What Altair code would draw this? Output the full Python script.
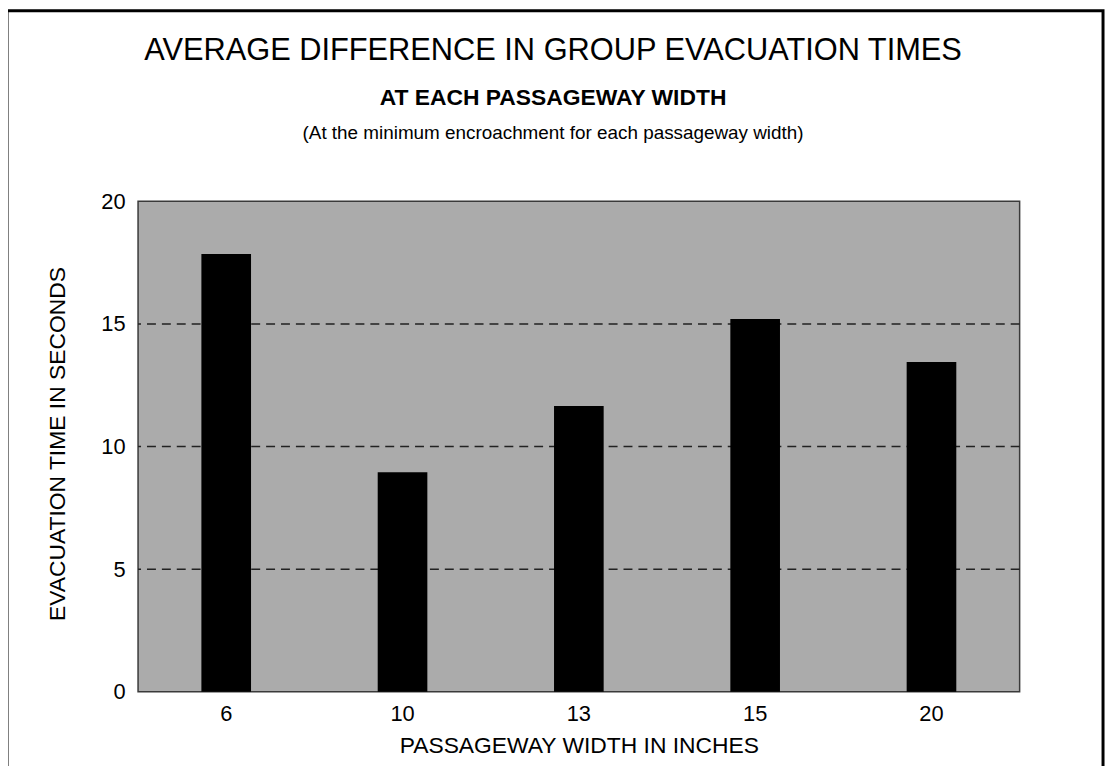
import altair as alt
import pandas as pd

# ---- data ----
widths = ["6", "10", "13", "15", "20"]
times = [17.85, 8.95, 11.65, 15.2, 13.45]
grid_values = [5, 10, 15]
y_ticks = [0, 5, 10, 15, 20]

title_main = "AVERAGE DIFFERENCE IN GROUP EVACUATION TIMES"
title_sub = "AT EACH PASSAGEWAY WIDTH"
title_note = "(At the minimum encroachment for each passageway width)"
x_title = "PASSAGEWAY WIDTH IN INCHES"
y_title = "EVACUATION TIME IN SECONDS"

FONT = "Liberation Sans"
W, H = 888, 494

df = pd.DataFrame({"width": widths, "time": times})
grid_df = pd.DataFrame({"v": grid_values})

yscale = alt.Scale(domain=[0, 20], nice=False, zero=True)

y_axis = alt.Axis(
    title=y_title,
    values=y_ticks,
    grid=False,
    labelFontSize=22,
    labelFont=FONT,
    labelColor="black",
    labelPadding=13,
    tickSize=0,
    domain=False,
    titleFont=FONT,
    titleFontSize=23,
    titleFontWeight="normal",
    titleColor="black",
    titleAngle=270,
    titleX=-81,
    titleY=H / 2 - 3,
    titleAlign="center",
    titleBaseline="middle",
)

grid = alt.Chart(grid_df).mark_rule(
    color="#222222", strokeWidth=1.5, strokeDash=[9, 6]
).encode(y=alt.Y("v:Q", scale=yscale, axis=y_axis))

bars = alt.Chart(df).mark_bar(color="black", size=50).encode(
    x=alt.X(
        "width:N",
        sort=widths,
        scale=alt.Scale(paddingInner=0, paddingOuter=0),
        axis=alt.Axis(
            title=x_title,
            labelAngle=0,
            labelFontSize=22,
            labelFont=FONT,
            labelColor="black",
            labelPadding=12,
            tickSize=0,
            domain=False,
            titleFont=FONT,
            titleFontSize=23,
            titleFontWeight="normal",
            titleColor="black",
            titleY=54,
            titleBaseline="middle",
        ),
    ),
    y=alt.Y("time:Q", scale=yscale, axis=y_axis),
)

CX = 418


def text_line(txt, y, size, weight="normal"):
    return alt.Chart(pd.DataFrame({"t": [txt]})).mark_text(
        font=FONT, fontSize=size, fontWeight=weight, color="black",
        align="center", baseline="alphabetic"
    ).encode(text="t:N", x=alt.value(CX), y=alt.value(y))


t1 = text_line(title_main, -142, 31)
t2 = text_line(title_sub, -97, 23, "bold")
t3 = text_line(title_note, -63, 19)

frame = alt.Chart(pd.DataFrame({"a": [0]})).mark_rect(
    fillOpacity=0, stroke="black", strokeWidth=3
).encode(x=alt.value(-132), x2=alt.value(972), y=alt.value(-192), y2=alt.value(620))

chart = alt.layer(grid, bars, t1, t2, t3, frame).properties(
    width=W,
    height=H,
    autosize=alt.AutoSizeParams(type="none"),
    padding={"left": 131, "top": 192, "right": 88, "bottom": 72},
    background="white",
).configure_view(
    fill="#ababab", stroke="#3a3a3a", strokeWidth=1.5
)

chart.save("out.html", embed_options={"renderer": "svg", "actions": False})
